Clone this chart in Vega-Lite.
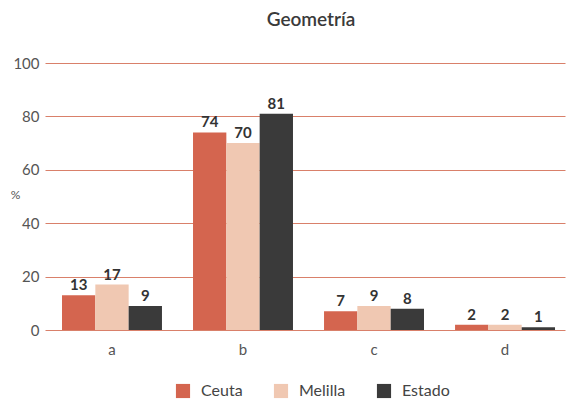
{
  "$schema": "https://vega.github.io/schema/vega-lite/v6.json",
  "width": 520,
  "height": 267,
  "autosize": {"type": "none"},
  "padding": {"left": 45, "top": 63, "right": 1, "bottom": 75},
  "background": "#ffffff",
  "title": {"text": "Geometría", "font": "Lato", "fontSize": 19, "fontWeight": 600, "color": "#3a3a3a", "anchor": "middle", "offset": 26, "dx": 6},
  "config": {"view": {"stroke": null}, "font": "Lato"},
  "data": {"values": [
    {"cat": "a", "grupo": "Ceuta", "v": 13},
    {"cat": "a", "grupo": "Melilla", "v": 17},
    {"cat": "a", "grupo": "Estado", "v": 9},
    {"cat": "b", "grupo": "Ceuta", "v": 74},
    {"cat": "b", "grupo": "Melilla", "v": 70},
    {"cat": "b", "grupo": "Estado", "v": 81},
    {"cat": "c", "grupo": "Ceuta", "v": 7},
    {"cat": "c", "grupo": "Melilla", "v": 9},
    {"cat": "c", "grupo": "Estado", "v": 8},
    {"cat": "d", "grupo": "Ceuta", "v": 2},
    {"cat": "d", "grupo": "Melilla", "v": 2},
    {"cat": "d", "grupo": "Estado", "v": 1}
  ]},
  "encoding": {
    "x": {"field": "cat", "type": "nominal", "scale": {"paddingInner": 0.237, "paddingOuter": 0.103, "align": 0.63},
      "axis": {"title": null, "labelAngle": 0, "ticks": false, "domain": false, "labelFontSize": 15, "labelColor": "#555", "labelPadding": 12, "labelFont": "Lato"}},
    "xOffset": {"field": "grupo", "type": "nominal", "sort": ["Ceuta", "Melilla", "Estado"], "scale": {"paddingInner": 0, "paddingOuter": 0}},
    "y": {"field": "v", "type": "quantitative", "scale": {"domain": [0, 100]},
      "axis": {"values": [0, 20, 40, 60, 80, 100], "title": "%", "titleAngle": 0, "titleX": -30, "titleY": 138, "titleFontWeight": "normal", "titleFontSize": 12, "titleColor": "#555",
        "domain": false, "ticks": false, "labelPadding": 6, "labelFontSize": 15, "labelColor": "#555", "gridColor": "#d9806a", "gridWidth": 1, "gridOpacity": 1}}
  },
  "layer": [
    {"mark": {"type": "bar"},
     "encoding": {"color": {"field": "grupo", "type": "nominal", "sort": ["Ceuta", "Melilla", "Estado"],
        "scale": {"domain": ["Ceuta", "Melilla", "Estado"], "range": ["#d4654f", "#f0c8b2", "#3a3a3a"]},
        "legend": {"title": null, "orient": "none", "direction": "horizontal", "legendX": 130, "legendY": 320, "symbolType": "square", "symbolSize": 200, "symbolStrokeWidth": 0, "labelFontSize": 16, "labelColor": "#444", "columnPadding": 30, "labelOffset": 10}}}},
    {"mark": {"type": "text", "dy": -10, "fontSize": 15, "fontWeight": "bold", "color": "#333"},
     "encoding": {"text": {"field": "v", "type": "quantitative"}}}
  ]
}
